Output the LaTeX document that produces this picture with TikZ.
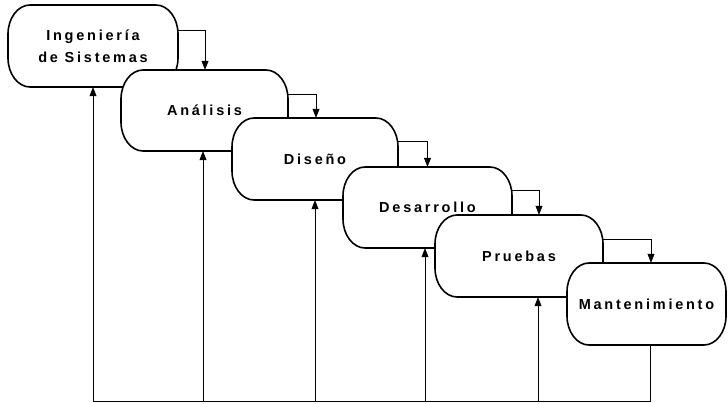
\documentclass[tikz,border=0pt]{standalone}
\usepackage{fontspec}
\newfontfamily\lblfont{Liberation Sans}[LetterSpace=19]
\usetikzlibrary{arrows.meta}
\tikzset{
  boxline/.style={line width=1.6pt, draw=black, fill=white, line join=round},
  boxtext/.style={inner sep=0pt, align=center, font=\lblfont\bfseries\fontsize{14.5}{22}\selectfont},
  conn/.style={line width=0.6pt, -{Triangle[length=9pt,width=7pt]}},
  plain/.style={line width=0.6pt}
}
% #1 name, #2 x1, #3 y1, #4 x2, #5 y2, #6 text
\newcommand\procbox[6]{%
  \filldraw[boxline] ({#2+22},#3) -- ({#4-22},#3)
    .. controls ({#4-10},#3) and (#4,{#3+13}) .. (#4,{#3+29})
    -- (#4,{#5-29})
    .. controls (#4,{#5-13}) and ({#4-10},#5) .. ({#4-22},#5)
    -- ({#2+22},#5)
    .. controls ({#2+10},#5) and (#2,{#5-13}) .. (#2,{#5-29})
    -- (#2,{#3+29})
    .. controls (#2,{#3+13}) and ({#2+10},#3) .. ({#2+22},#3) -- cycle;
  \node[boxtext, minimum width={#4-#2}, minimum height={#5-#3}] (#1) at ({(#2+#4)/2},{(#3+#5)/2}) {#6};
}
\begin{document}
\begin{tikzpicture}[x=1pt,y=-1pt]
\fill[white] (0,0) rectangle (728,404);
\useasboundingbox (0,0) rectangle (728,404);
\procbox{b1}{8}{5}{178}{87}{Ingeniería\\de Sistemas}
\procbox{b2}{121}{70}{288}{151}{Análisis}
\procbox{b3}{232}{118}{398}{200}{Diseño}
\procbox{b4}{343}{167}{512}{248}{Desarrollo}
\procbox{b5}{435}{215}{603}{297}{Pruebas}
\procbox{b6}{567}{263}{726}{345}{Mantenimiento}
% forward arrows
\draw[conn] ([yshift=16pt]b1.east) -| ([xshift=0.5pt]b2.north);
\draw[conn] ([yshift=16.5pt]b2.east) -| ([xshift=1pt]b3.north);
\draw[conn] ([yshift=18pt]b3.east) -| (b4.north);
\draw[conn] ([yshift=17.5pt]b4.east) -| ([xshift=20pt]b5.north);
\draw[conn] ([yshift=17pt]b5.east) -| ([xshift=4.5pt]b6.north);
% feedback
\coordinate (bl) at (0,401);
\draw[plain] ([xshift=3.5pt]b6.south) |- (b1.south |- bl);
\draw[conn] (b1.south |- bl) -- (b1.south);
\draw[conn] ([xshift=-1.5pt]b2.south |- bl) -- ([xshift=-1.5pt]b2.south);
\draw[conn] (b3.south |- bl) -- (b3.south);
\draw[conn] ([xshift=-2.5pt]b4.south |- bl) -- ([xshift=-2.5pt]b4.south);
\draw[conn] ([xshift=19pt]b5.south |- bl) -- ([xshift=19pt]b5.south);
\end{tikzpicture}
\end{document}
